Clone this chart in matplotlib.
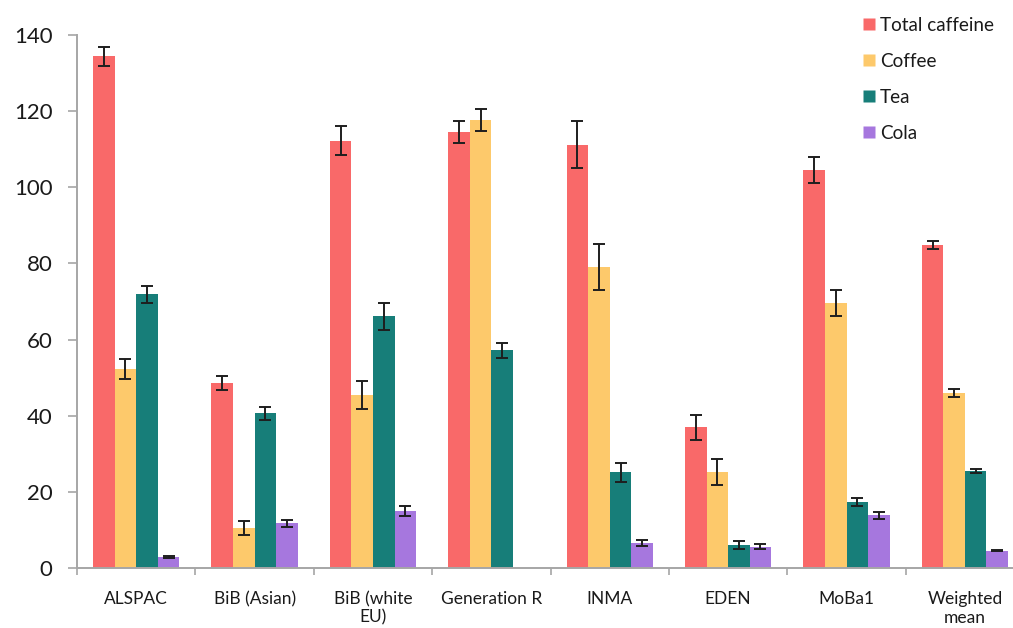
import numpy as np
import matplotlib
matplotlib.use("Agg")
import matplotlib.pyplot as plt
from matplotlib.lines import Line2D

plt.rcParams['font.family'] = ['Lato', 'DejaVu Sans']

# Cohorts and caffeine intake (mg/day) by source, with standard errors
cohorts = ["ALSPAC", "BiB (Asian)", "BiB (white\nEU)", "Generation R",
           "INMA", "EDEN", "MoBa1", "Weighted\nmean"]
series_names = ["Total caffeine", "Coffee", "Tea", "Cola"]

total_caffeine = [134.4, 48.6, 112.2, 114.5, 111.2, 36.9, 104.5, 84.8]
coffee = [52.3, 10.6, 45.5, 117.6, 79.1, 25.1, 69.6, 46.0]
tea = [71.9, 40.6, 66.1, 57.2, 25.1, 6.1, 17.4, 25.5]
cola = [2.9, 11.7, 14.9, np.nan, 6.6, 5.6, 13.8, 4.6]

total_err = [2.5, 1.8, 3.8, 2.8, 6.1, 3.4, 3.5, 1.0]
coffee_err = [2.6, 1.8, 3.7, 2.8, 6.1, 3.4, 3.5, 1.0]
tea_err = [2.2, 1.8, 3.5, 2.0, 2.5, 1.1, 1.0, 0.6]
cola_err = [0.3, 1.0, 1.3, np.nan, 0.8, 0.7, 1.0, 0.2]

colors = ["#F96969", "#FDC96B", "#177E79", "#A677DE"]

values = [total_caffeine, coffee, tea, cola]
errors = [total_err, coffee_err, tea_err, cola_err]

fig = plt.figure(figsize=(10.13, 6.28), dpi=100)
ax = fig.add_axes([0.076, 0.0955, 0.935, 0.849])

x = np.arange(len(cohorts))
w = 0.182
offsets = (np.arange(4) - 1.5) * w

for vals, errs, off, col in zip(values, errors, offsets, colors):
    ax.bar(x + off, vals, width=w, color=col, edgecolor='none', zorder=2)
    ax.errorbar(x + off, vals, yerr=errs, fmt='none', ecolor='#1e1e1e',
                elinewidth=1.4, capsize=4.2, capthick=1.4, zorder=3)

ax.set_xlim(-0.5, len(cohorts) - 0.5)
ax.set_ylim(0, 140)
ax.set_yticks(np.arange(0, 141, 20))

ax.set_xticks(x)
ax.set_xticklabels(cohorts, fontsize=12.5, color='#1a1a1a', linespacing=1.2)
ax.set_xticks(np.arange(-0.5, len(cohorts)), minor=True)
ax.tick_params(axis='x', which='major', length=0, pad=16.5)
ax.tick_params(axis='x', which='minor', length=5, width=1.2,
               color='#A6A6A6', direction='out')
ax.tick_params(axis='y', length=6.5, width=1.2, color='#A6A6A6',
               labelsize=16, labelcolor='#1a1a1a', pad=11)

for side in ['top', 'right']:
    ax.spines[side].set_visible(False)
for side in ['left', 'bottom']:
    ax.spines[side].set_color('#A6A6A6')
    ax.spines[side].set_linewidth(1.4)

handles = [Line2D([], [], linestyle='none', marker='s', markersize=8,
                  markerfacecolor=c, markeredgecolor='none') for c in colors]
fig.legend(handles, series_names, loc='upper left',
           bbox_to_anchor=(0.835, 1.0), frameon=False, fontsize=13.6,
           handlelength=0.6, handletextpad=0.3, labelspacing=1.0,
           labelcolor='#1a1a1a')

fig.savefig("out.png", dpi=100)
